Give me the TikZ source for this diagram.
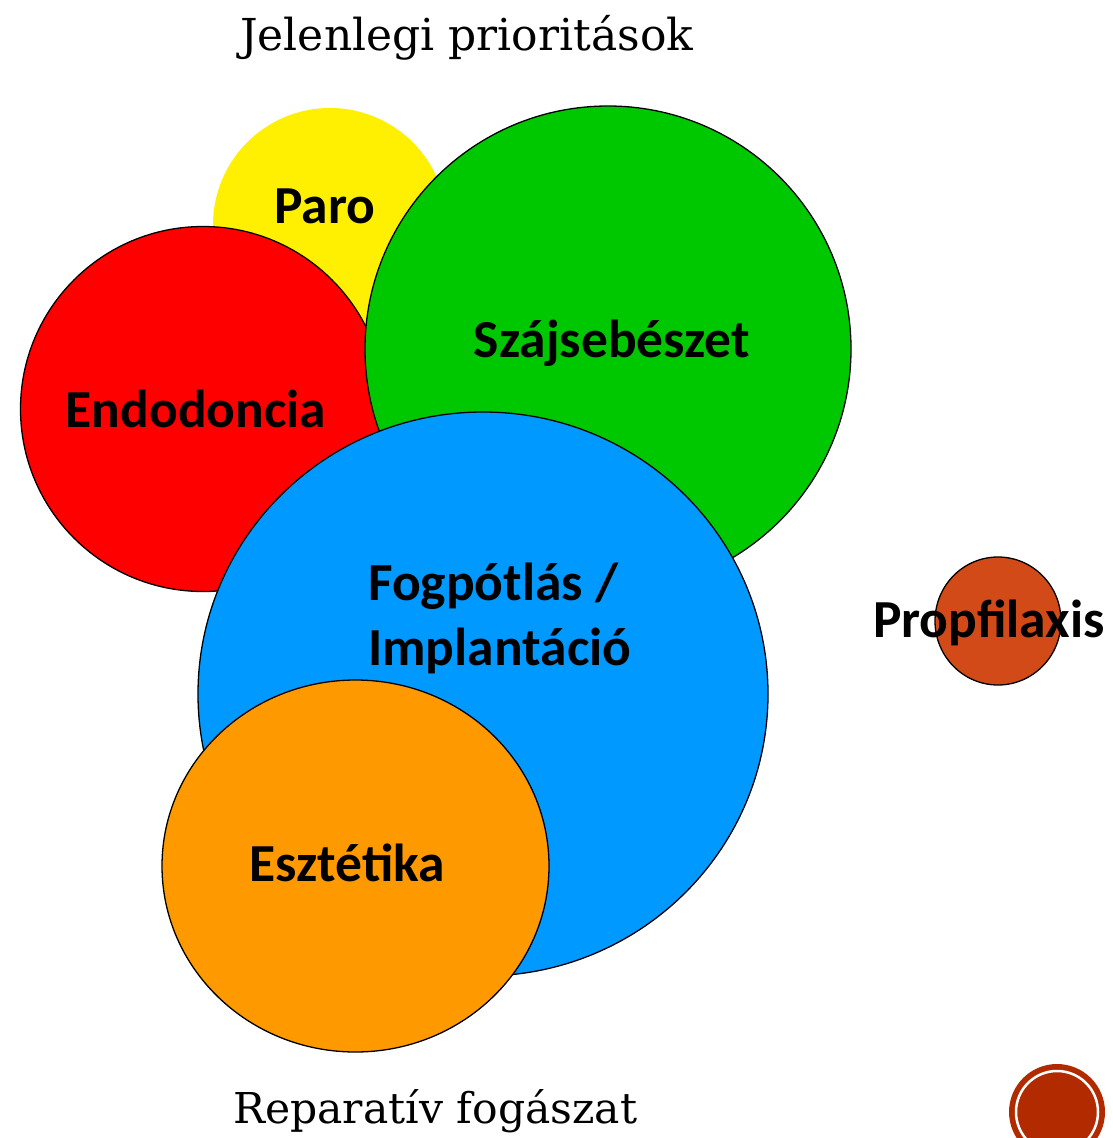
\documentclass[tikz,border=0pt]{standalone}
\usepackage{fontspec}
\setmainfont{Carlito}
\newfontfamily\titlefont{DejaVu Serif}
\usetikzlibrary{shapes.geometric}
\definecolor{cYellow}{HTML}{FFEF00}
\definecolor{cRed}{HTML}{FF0000}
\definecolor{cGreen}{HTML}{00C800}
\definecolor{cBlue}{HTML}{0099FF}
\definecolor{cOrange}{HTML}{FF9900}
\definecolor{cProp}{HTML}{D24A17}
\definecolor{cDeco}{HTML}{B22A00}
\tikzset{
  bubble/.style={ellipse, inner sep=0pt, draw=black, line width=1.3pt},
  lbl/.style={font=\fontsize{53.5}{64}\selectfont\bfseries, text=black, inner sep=0pt, anchor=base},
  ttl/.style={font=\titlefont\fontsize{44}{52}\selectfont, text=black, inner sep=0pt, anchor=base west},
}
\begin{document}
\begin{tikzpicture}[x=1pt,y=-1pt]
\useasboundingbox (0,0) rectangle (1112,1138);
% circles (back to front)
\node[ellipse, inner sep=0pt, fill=cYellow, minimum width=234pt, minimum height=234pt] (paro) at (330,225) {};
\node[bubble, fill=cRed, minimum width=365pt, minimum height=365pt] (endo) at (203,409) {};
\node[bubble, fill=cGreen, minimum width=486pt, minimum height=486pt] (szaj) at (608,349) {};
\node[bubble, fill=cBlue, minimum width=570pt, minimum height=564pt] (fog) at (483,694) {};
\node[bubble, fill=cOrange, minimum width=387pt, minimum height=372pt] (eszt) at (355.5,866) {};
\node[bubble, fill=cProp, minimum width=126pt, minimum height=128pt] (prop) at (998,621) {};
% decoration
\node[circle, inner sep=0pt, fill=cDeco, minimum size=96pt] (deco) at (1057,1112) {};
\node[circle, inner sep=0pt, draw=white, line width=2.5pt, minimum size=82pt] (decoring) at (deco.center) {};
% labels
\node[lbl] (tparo) at (325,223) {Paro};
\node[lbl] (tszaj) at (612,357) {Szájsebészet};
\node[lbl] (tendo) at (196,427) {Endodoncia};
\node[lbl, anchor=base west] (tfog1) at (368,600) {Fogpótlás /};
\node[lbl, anchor=base west] (tfog2) at (368,665) {Implantáció};
\node[lbl] (teszt) at (347,881) {Esztétika};
\node[lbl] (tprop) at (989,637) {Propfilaxis};
% titles
\node[ttl] (title) at (240,50) {Jelenlegi prioritások};
\node[ttl, font=\titlefont\fontsize{42.5}{50}\selectfont] (subtitle) at (233,1123) {Reparatív fogászat};
\end{tikzpicture}
\end{document}
